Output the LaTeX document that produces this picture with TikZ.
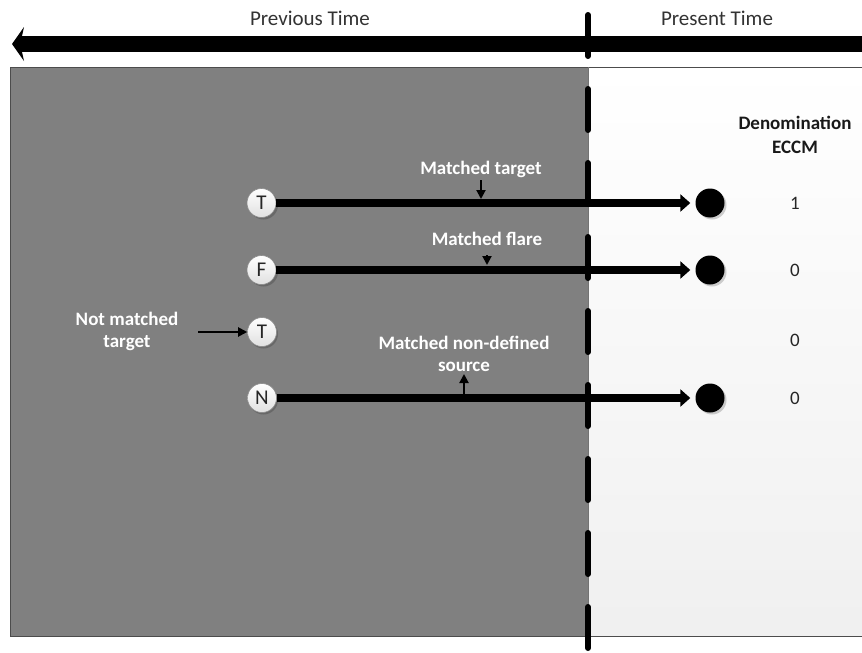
\documentclass[tikz,border=0pt]{standalone}
\usepackage{fontspec}
\setmainfont{Carlito}
\usetikzlibrary{arrows.meta}
\begin{document}
\begin{tikzpicture}[x=1pt,y=-1pt,
  lbl/.style={font=\fontsize{19}{22}\selectfont\bfseries, text=white, align=center, inner sep=1pt},
  timelbl/.style={font=\fontsize{21}{23}\selectfont, text=black!80},
  numlbl/.style={font=\fontsize{19}{21}\selectfont, text=black!85},
  objnode/.style={circle, minimum size=29pt, inner sep=0pt, draw=black!45, line width=0.6pt,
    top color=white, bottom color=black!12, font=\fontsize{21}{23}\selectfont, text=black!85},
  dotnode/.style={circle, minimum size=29pt, inner sep=0pt, fill=black},
  track/.style={line width=7.5pt, -{Triangle[length=10pt,width=17pt]}, shorten >=5pt},
  pointer/.style={line width=2pt, -{Triangle[length=9pt,width=9pt]}},
  shadowdisc/.style={fill=black, opacity=0.18}
]
\useasboundingbox (0,0) rectangle (862,653);

% panels: past (grey) and present (light)
\fill[black!50] (10,67) rectangle (588,636);
\shade[top color=white, bottom color=black!6] (588,67) rectangle (862,636);
\draw[black!70, line width=0.8pt] (10,67) rectangle (880,636);
\draw[black!55, line width=0.6pt] (588,67) -- (588,636);

% time axis
\fill[black] (22,36) rectangle (862,52);
\fill[black] (12,44) -- (24,27) -- (22,36) -- (22,52) -- (24,61) -- cycle;
\node[timelbl] (prev) at (310,18) {Previous Time};
\node[timelbl] (pres) at (717,18) {Present Time};

% present-moment boundary
\draw[black, line width=6pt, line cap=round, dash pattern=on 41pt off 33pt] (588,15) -- (588,650);

% column heading
\node[font=\fontsize{19}{24}\selectfont\bfseries, align=center, text=black!90] (head) at (795,135) {Denomination\\ECCM};

% shadows under discs
\foreach \y in {203,270,332,398} \fill[shadowdisc] (263.5,\y+2) circle (14.5);
\foreach \y in {203,270,398} \fill[shadowdisc] (712,\y+2) circle (14.5);

% previous-time objects
\node[objnode] (t1) at (261.5,203) {T};
\node[objnode] (f1) at (261.5,270) {F};
\node[objnode] (t2) at (262,332) {T};
\node[objnode] (n1) at (262,398) {N};

% present-time detections
\node[dotnode] (d1) at (710,203) {};
\node[dotnode] (d2) at (710,270) {};
\node[dotnode] (d3) at (710,398) {};

% associations
\draw[track] (t1) -- (d1);
\draw[track] (f1) -- (d2);
\draw[track] (n1) -- (d3);

% ECCM values
\node[numlbl] (v1) at (795,203) {1};
\node[numlbl] (v2) at (795,270) {0};
\node[numlbl] (v3) at (795,340) {0};
\node[numlbl] (v4) at (795,398) {0};

% annotations
\node[lbl] (mt) at (481,169) {Matched target};
\coordinate (mtp) at (481,199);
\draw[pointer] (481,180) -- (mtp);

\node[lbl] (mf) at (487,239) {Matched flare};
\coordinate (mfp) at (487,265);
\draw[pointer] (487,255) -- (mfp);

\node[lbl] (nm) at (127,331) {Not matched\\target};
\coordinate (nms) at (198,332);
\draw[pointer] (nms) -- (t2);

\node[lbl] (ms) at (464,354) {Matched non-defined\\source};
\coordinate (msp) at (464,398);
\draw[pointer] (msp) -- (464,374);
\end{tikzpicture}
\end{document}
